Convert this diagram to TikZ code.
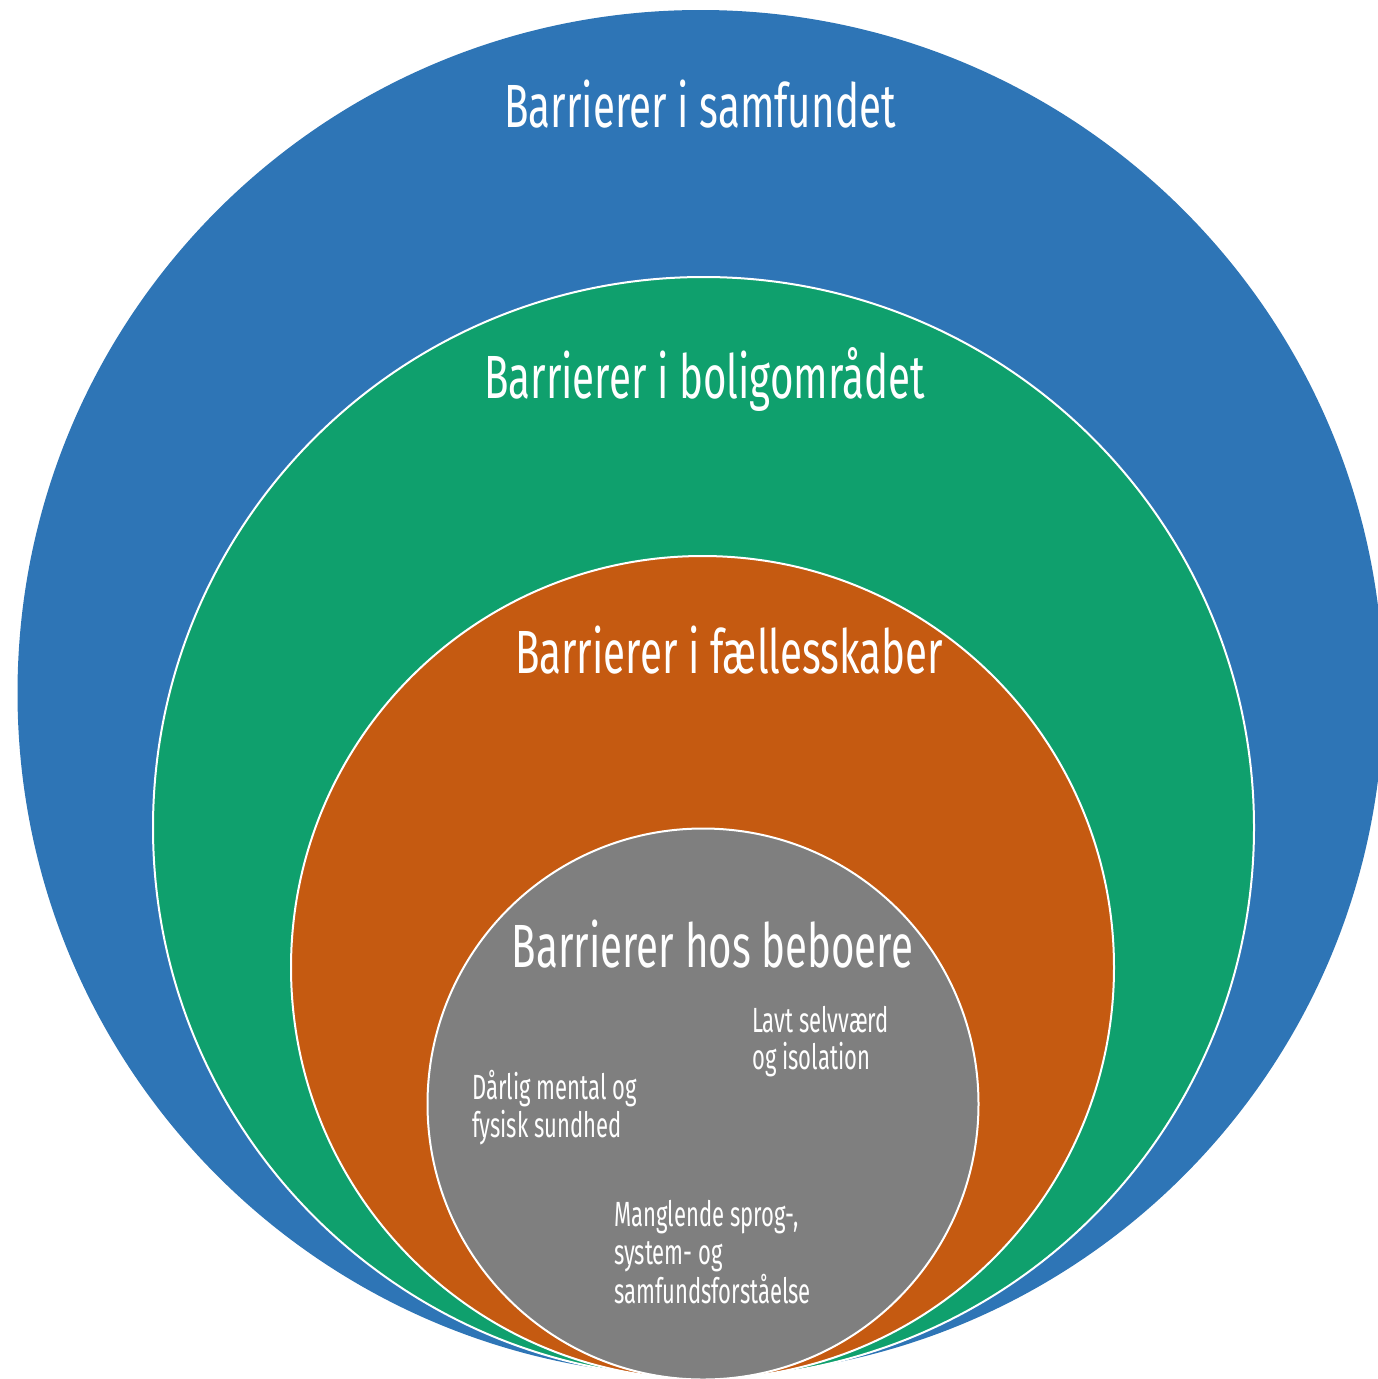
\documentclass[tikz,border=0pt]{standalone}
\usepackage{fontspec}
\newfontfamily\cond[FakeStretch=0.66]{Fira Sans}
\newfontfamily\condsmall[FakeStretch=0.63]{Fira Sans}
\definecolor{cblue}{HTML}{2E75B6}
\definecolor{cgreen}{HTML}{0FA06D}
\definecolor{corange}{HTML}{C55A11}
\definecolor{cgray}{HTML}{7F7F7F}
\tikzset{
  ring/.style={circle, inner sep=0pt, outer sep=0pt, draw=white, line width=2pt},
  bigtitle/.style={text=white, inner sep=0pt, anchor=base, font=\cond\fontsize{61}{70}\selectfont},
  smalltext/.style={text=white, inner sep=0pt, anchor=base west, font=\condsmall\fontsize{35}{38}\selectfont}
}
\begin{document}
\begin{tikzpicture}[x=1pt,y=-1pt]
\useasboundingbox (0,0) rectangle (1378,1379);
\clip (0,0) rectangle (1378,1379);
\node[ring, fill=cblue, draw=none, minimum size=1366pt] (samfund) at (700.5,693) {};
\node[ring, fill=cgreen, minimum size=1101pt] (bolig) at (703.5,827.5) {};
\node[ring, fill=corange, minimum size=823pt] (faelles) at (702.5,967.5) {};
\node[ring, fill=cgray, minimum size=551pt] (beboere) at (703,1104) {};
\node[bigtitle] (t1) at (700,127) {Barrierer i samfundet};
\node[bigtitle] (t2) at (704.5,398) {Barrierer i boligområdet};
\node[bigtitle] (t3) at (729,673) {Barrierer i fællesskaber};
\node[bigtitle] (t4) at (712.5,967) {Barrierer hos beboere};
\node[smalltext] (a1) at (752,1032) {Lavt selvværd};
\node[smalltext] (a2) at (752,1069) {og isolation};
\node[smalltext] (b1) at (472,1099) {Dårlig mental og};
\node[smalltext] (b2) at (472,1137) {fysisk sundhed};
\node[smalltext] (c1) at (614,1226) {Manglende sprog-,};
\node[smalltext] (c2) at (614,1264) {system- og};
\node[smalltext] (c3) at (614,1303) {samfundsforståelse};
\end{tikzpicture}
\end{document}
